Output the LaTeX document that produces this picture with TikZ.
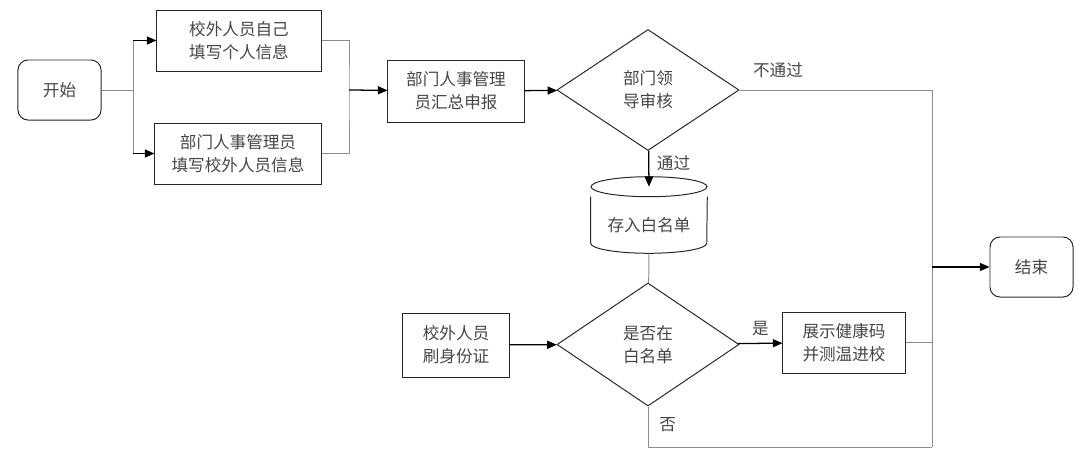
\documentclass[tikz,border=0pt]{standalone}
\usepackage{fontspec}
\setmainfont{Noto Sans CJK SC}
\usepackage{tikz}
\usetikzlibrary{shapes.geometric,arrows.meta,positioning}
\definecolor{ink}{HTML}{454545}
\tikzset{proc/.style={draw=black!85, line width=0.7pt, text=ink, align=center, inner sep=0pt, minimum height=1.525cm}}
\tikzset{term/.style={proc, rounded corners=0.25cm, minimum width=2.075cm, minimum height=1.5cm}}
\tikzset{judge/.style={proc, diamond, minimum width=4.55cm}}
\tikzset{wire/.style={draw=black!45, line width=0.7pt}, arr/.style={draw=black, line width=0.9pt, ->}}
\tikzset{lbl/.style={text=ink, inner sep=0pt}}

\begin{document}
\begin{tikzpicture}[x=0.025cm, y=-0.025cm, font=\fontsize{11.8}{16.5}\selectfont,
		>={Triangle[length=2.4mm,width=2mm]}]
	\useasboundingbox (0,0) rectangle (1080,462);
	\node[term] (start) at (59.5,90) {开始};
	\node[proc, minimum width=4.1cm] (self) at (239,40.5) {校外人员自己\\填写个人信息};
	\node[proc, minimum width=4.15cm] (clerk) at (238,153.5) {部门人事管理员\\填写校外人员信息};
	\node[proc, minimum width=3.4cm, minimum height=1.55cm] (report) at (456,91) {部门人事管理\\员汇总申报};
	\node[judge, minimum height=3.025cm] (audit) at (648,90) {部门领\\导审核};
	\node[lbl, minimum width=2.9cm, minimum height=1.4cm] (store) at (649,225) {存入白名单};
	\node[proc, minimum width=2.65cm, minimum height=1.6cm] (swipe) at (456,345) {校外人员\\刷身份证};
	\node[judge, minimum height=3.075cm] (inlist) at (648,344.5) {是否在\\白名单};
	\node[proc, minimum width=3.05cm] (enter) at (844,342.5) {展示健康码\\并测温进校};
	\node[term] (finish) at (1031.5,267) {结束};

	\draw[proc] ([yshift=0.25cm]store.north) ellipse [x radius=1.45cm, y radius=0.25cm];
	\draw[proc] (store.north west) -- ([yshift=0.25cm]store.south west)
		arc[start angle=180, end angle=360, x radius=1.45cm, y radius=0.25cm] -- (store.north east);

	\coordinate (split) at (133,90);
	\coordinate (merge) at (349,90);
	\coordinate (railtop) at (932,90);
	\coordinate (railmid) at (932,267);
	\coordinate (railbot) at (932,447);

	\draw[wire] (start) -- (split) (split |- self) -- (split |- clerk);
	\draw[arr] (split |- self) -- (self);
	\draw[arr] (split |- clerk) -- (clerk);
	\draw[wire] (self) -| (merge) |- (clerk);
	\draw[arr] (merge) -- (report);
	\draw[arr] (report) -- (audit);
	\draw[wire] (audit) -- node[lbl, pos=0.2, above=0.29cm] {不通过} (railtop) -- (railbot);
	\draw[arr] (audit) -- node[lbl, pos=0.35, right=0.19cm] {通过} ([yshift=0.25cm]store.north);
	\draw[wire] (store.south) -- (inlist);
	\draw[arr] (swipe) -- (inlist);
	\draw[arr] (inlist) -- node[lbl, above=0.17cm] {是} (enter);
	\draw[wire] (enter) -- (enter -| railtop);
	\draw[wire] (inlist) -- node[lbl, pos=0.46, right=0.27cm] {否} (inlist |- railbot) -- (railbot);
	\draw[arr] (railmid) -- (finish);
\end{tikzpicture}
\end{document}
